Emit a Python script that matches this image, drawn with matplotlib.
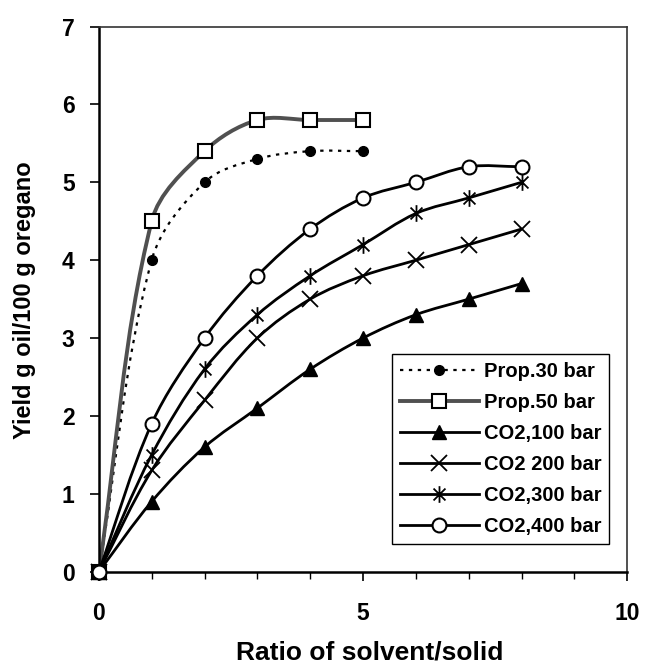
import numpy as np
import matplotlib
matplotlib.use("Agg")
import matplotlib.pyplot as plt
from matplotlib.path import Path
from matplotlib.patches import PathPatch
from matplotlib.lines import Line2D
from matplotlib.ticker import MultipleLocator

plt.rcParams['font.family'] = ['Liberation Sans', 'DejaVu Sans']
plt.rcParams['font.weight'] = 'bold'

# Données
x_prop = [0, 1, 2, 3, 4, 5]
y_prop30 = [0, 4.0, 5.0, 5.3, 5.4, 5.4]
y_prop50 = [0, 4.5, 5.4, 5.8, 5.8, 5.8]

x_co2 = [0, 1, 2, 3, 4, 5, 6, 7, 8]
y_co2_100 = [0, 0.9, 1.6, 2.1, 2.6, 3.0, 3.3, 3.5, 3.7]
y_co2_200 = [0, 1.3, 2.2, 3.0, 3.5, 3.8, 4.0, 4.2, 4.4]
y_co2_300 = [0, 1.5, 2.6, 3.3, 3.8, 4.2, 4.6, 4.8, 5.0]
y_co2_400 = [0, 1.9, 3.0, 3.8, 4.4, 4.8, 5.0, 5.2, 5.2]

labels = ["Prop.30 bar", "Prop.50 bar", "CO2,100 bar", "CO2 200 bar",
          "CO2,300 bar", "CO2,400 bar"]

# marqueur "étoile" façon Excel (X + barre verticale)
star = Path([(-1, -1), (1, 1), (-1, 1), (1, -1), (0, -1.4), (0, 1.4)],
            [Path.MOVETO, Path.LINETO, Path.MOVETO, Path.LINETO,
             Path.MOVETO, Path.LINETO])

ASPECT = 78.0 / 52.8  # px par unité y / px par unité x


def smooth_path(x, y):
    # courbe lissée façon Excel (Bezier, tangentes calculées à l'écran)
    p = np.column_stack([x, np.asarray(y, float) * ASPECT]).astype(float)
    n = len(p)
    verts = [p[0]]
    codes = [Path.MOVETO]

    def tangent(i):
        a = p[i - 1] if i > 0 else p[i]
        b = p[i + 1] if i + 1 < n else p[i]
        d = b - a
        return d / np.hypot(*d)

    for i in range(n - 1):
        p1, p2 = p[i], p[i + 1]
        L = np.hypot(*(p2 - p1)) / 3.0
        c1 = p1 + tangent(i) * L
        c2 = p2 - tangent(i + 1) * L
        verts += [c1, c2, p2]
        codes += [Path.CURVE4] * 3
    verts = np.array(verts)
    verts[:, 1] /= ASPECT
    return Path(verts, codes)


series = [
    (x_prop, y_prop30, dict(color='black', lw=1.6, ls=(0, (1.5, 2.5))),
     dict(marker='o', ms=7, mfc='black', mec='black')),
    (x_prop, y_prop50, dict(color='#505050', lw=2.8, ls='-'),
     dict(marker='s', ms=10, mfc='white', mec='black', mew=1.5)),
    (x_co2, y_co2_100, dict(color='black', lw=2.0, ls='-'),
     dict(marker='^', ms=10, mfc='black', mec='black')),
    (x_co2, y_co2_200, dict(color='black', lw=2.0, ls='-'),
     dict(marker='x', ms=11, mfc='none', mec='black', mew=1.3)),
    (x_co2, y_co2_300, dict(color='black', lw=2.0, ls='-'),
     dict(marker=star, ms=12, mfc='none', mec='black', mew=1.3)),
    (x_co2, y_co2_400, dict(color='black', lw=2.0, ls='-'),
     dict(marker='o', ms=10, mfc='white', mec='black', mew=1.5)),
]

fig = plt.figure(figsize=(6.46, 6.64), dpi=100)
ax = fig.add_axes([0.153, 0.139, 0.818, 0.821])

handles = []
for (x, y, lstyle, mstyle), lab in zip(series, labels):
    patch = PathPatch(smooth_path(x, y), facecolor='none',
                      edgecolor=lstyle['color'], lw=lstyle['lw'],
                      linestyle=lstyle['ls'], capstyle='butt', zorder=2)
    ax.add_patch(patch)
    ax.plot(x, y, ls='none', zorder=3, clip_on=False, **mstyle)
    handles.append(Line2D([], [], color=lstyle['color'], lw=lstyle['lw'],
                          ls=lstyle['ls'], **mstyle))

ax.set_xlim(0, 10)
ax.set_ylim(0, 7)
ax.xaxis.set_major_locator(MultipleLocator(5))
ax.xaxis.set_minor_locator(MultipleLocator(1))
ax.yaxis.set_major_locator(MultipleLocator(1))

for side in ['left', 'bottom']:
    ax.spines[side].set_linewidth(1.8)
for side in ['top', 'right']:
    ax.spines[side].set_linewidth(1.2)
    ax.spines[side].set_color('#333333')

ax.tick_params(axis='both', which='major', direction='out', length=6.5,
               width=1.2, labelsize=16.5)
ax.tick_params(axis='x', which='major', pad=15)
ax.tick_params(axis='y', which='major', pad=11)
ax.tick_params(axis='x', which='minor', direction='out', length=5, width=1.0)
for lab in ax.get_xticklabels() + ax.get_yticklabels():
    lab.set_fontweight('bold')

fig.text(370 / 646, 1 - 652 / 664, "Ratio of solvent/solid", fontsize=19,
         fontweight='bold', ha='center', va='center')
fig.text(25 / 646, 1 - 300 / 664, "Yield g oil/100 g oregano", fontsize=17,
         fontweight='bold', ha='center', va='center', rotation=90)

leg = ax.legend(handles, labels, loc='lower right',
                bbox_to_anchor=(0.966, 0.05), borderaxespad=0,
                fancybox=False, edgecolor='black', framealpha=1,
                handlelength=3.9, handletextpad=0.25, labelspacing=0.6,
                borderpad=0.4, prop={'size': 14.5, 'weight': 'bold'})
leg.get_frame().set_linewidth(1.0)

fig.savefig("out.png", dpi=100)
